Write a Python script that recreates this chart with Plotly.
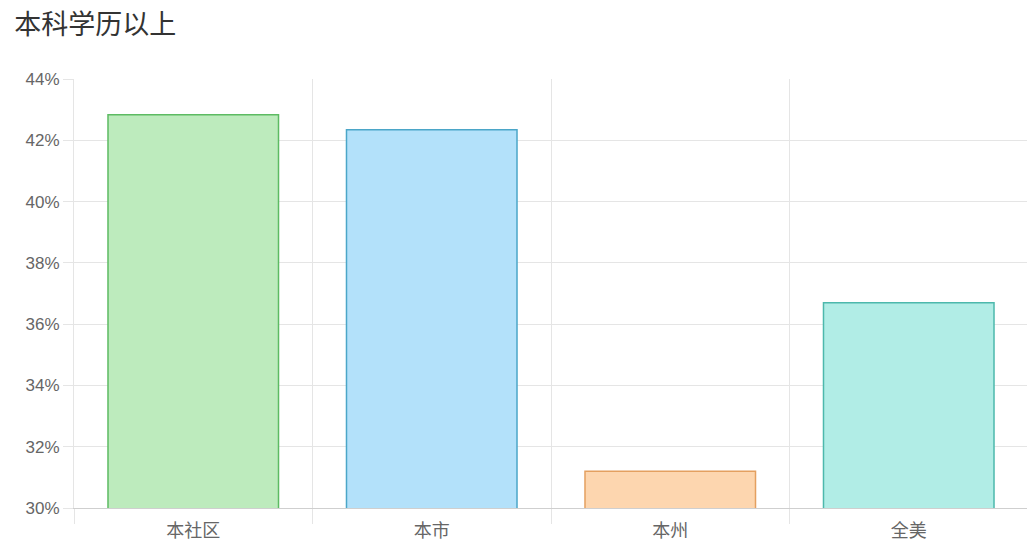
import plotly.graph_objects as go

# 本科学历以上 比例 (%)
categories = ["本社区", "本市", "本州", "全美"]
values = [42.83, 42.34, 31.2, 36.7]
y_ticks = [30, 32, 34, 36, 38, 40, 42, 44]

fill_colors = ["#BDEBBD", "#B3E1FA", "#FDD6AF", "#B1EDE6"]
line_colors = ["#5DBB63", "#4BA6C8", "#E4A060", "#4DB8AC"]

fig = go.Figure(
    go.Bar(
        x=categories,
        y=values,
        marker=dict(color=fill_colors, line=dict(color=line_colors, width=1.5)),
        width=0.715,
        hoverinfo="x+y",
    )
)

grid = "#e5e5e5"

# page has an 8px body margin, so the figure is a bit smaller than the window
fig.update_layout(
    width=1027,
    height=543,
    margin=dict(l=66, r=7, t=71, b=43),
    paper_bgcolor="white",
    plot_bgcolor="white",
    showlegend=False,
    font=dict(family="Liberation Sans, Noto Sans CJK SC, sans-serif", color="#666666"),
    title=dict(
        text="本科学历以上",
        x=0.006,
        xanchor="left",
        y=0.97,
        yanchor="middle",
        font=dict(size=27, color="#333333"),
    ),
)

fig.update_xaxes(
    type="category",
    tickson="boundaries",
    showgrid=True,
    gridcolor=grid,
    gridwidth=1,
    ticks="outside",
    ticklen=15,
    tickcolor=grid,
    ticklabelstandoff=6,
    showline=True,
    linecolor="#cfcfcf",
    tickfont=dict(size=18, color="#666666"),
    fixedrange=True,
)

fig.update_yaxes(
    range=[30, 44],
    tickvals=y_ticks,
    ticktext=[f"{v}%" for v in y_ticks],
    showgrid=True,
    gridcolor=grid,
    zeroline=False,
    ticks="outside",
    ticklen=10,
    tickcolor=grid,
    showline=True,
    linecolor=grid,
    tickfont=dict(size=17, color="#666666"),
    fixedrange=True,
)

fig.write_html("out.html")
